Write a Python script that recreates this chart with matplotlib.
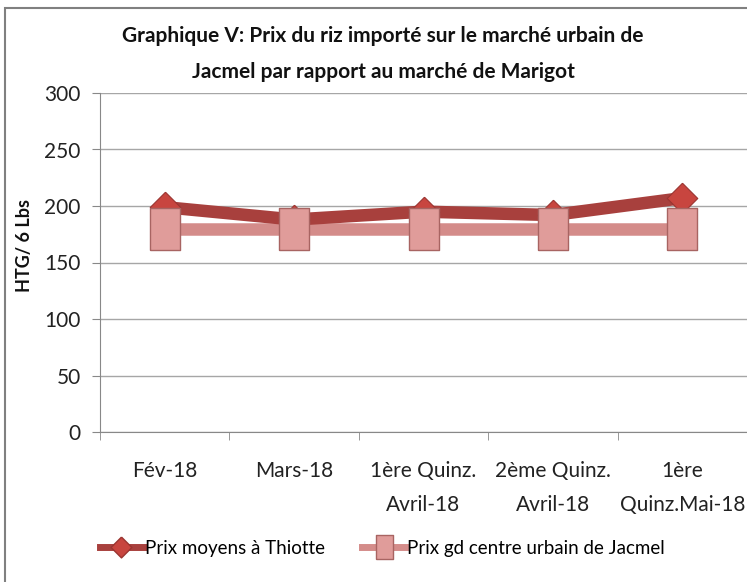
import matplotlib
matplotlib.use('Agg')
import matplotlib.pyplot as plt
from matplotlib.lines import Line2D
from matplotlib.patches import Rectangle

plt.rcParams['font.family'] = ['Lato', 'DejaVu Sans']

# data
categories = ['Fév-18', 'Mars-18', '1ère Quinz.\nAvril-18', '2ème Quinz.\nAvril-18', '1ère\nQuinz.Mai-18']
thiotte = [199, 188, 195, 192, 207]
jacmel = [180, 180, 180, 180, 180]
yticks = [0, 50, 100, 150, 200, 250, 300]

dark = '#A8403D'
dark_fill = '#C8453F'
light = '#D48C8A'
light_fill = '#E09C9A'
light_edge = '#A86462'

diamond = [(0, 1), (1, 0), (0, -1), (-1, 0), (0, 1)]
rect = [(-0.72, -1), (0.72, -1), (0.72, 1), (-0.72, 1), (-0.72, -1)]

fig = plt.figure(figsize=(7.47, 5.82), dpi=100)
ax = fig.add_axes([100 / 747, 150 / 582, 647 / 747, 339 / 582])

x = list(range(len(categories)))

# lines first, then the markers on top (like Excel)
ax.plot(x, jacmel, color=light, lw=9, zorder=2, solid_capstyle='butt')
ax.plot(x, thiotte, color=dark, lw=9, zorder=3, solid_capstyle='butt')
ax.plot(x, thiotte, ls='none', marker=diamond, ms=22, mfc=dark_fill,
        mec='#9A3430', mew=0.8, zorder=4)
ax.plot(x, jacmel, ls='none', marker=rect, ms=30, mfc=light_fill,
        mec=light_edge, mew=1.0, zorder=5)

ax.set_ylim(0, 300)
ax.set_xlim(-0.5, -0.5 + 647 / 130)
ax.set_yticks(yticks)
ax.set_xticks(x)
ax.set_xticklabels(categories, fontsize=15, linespacing=1.85, color='#222222')
ax.set_xticks([i - 0.5 for i in range(len(categories) + 1)], minor=True)
ax.tick_params(axis='x', which='major', length=0, pad=21)
ax.tick_params(axis='x', which='minor', length=6, color='#888888', direction='out')
ax.tick_params(axis='y', length=6, color='#888888', labelsize=15, labelcolor='#222222', pad=8)

ax.grid(axis='y', color='#A6A6A6', lw=1)
ax.set_axisbelow(True)
for s in ['top', 'right']:
    ax.spines[s].set_visible(False)
for s in ['left', 'bottom']:
    ax.spines[s].set_color('#888888')

ax.set_ylabel('HTG/ 6 Lbs', fontsize=13, fontweight='bold', color='#111111')
ax.yaxis.set_label_coords(-0.103, 0.55)

fig.text(0.513, 0.908, 'Graphique V: Prix du riz importé sur le marché urbain de\n'
         'Jacmel par rapport au marché de Marigot',
         ha='center', va='center', fontsize=15, fontweight='bold', linespacing=2.0,
         color='#111111')

h1 = Line2D([], [], color=dark, lw=5, marker=diamond, ms=15, mfc=dark_fill, mec='#9A3430')
h2 = Line2D([], [], color=light, lw=5, marker=rect, ms=17, mfc=light_fill, mec=light_edge)
fig.legend([h1, h2], ['Prix moyens à Thiotte', 'Prix gd centre urbain de Jacmel'],
           loc='center', bbox_to_anchor=(0.512, 0.058), ncol=2, frameon=False,
           fontsize=13.5, handlelength=2.3, handletextpad=0.1, columnspacing=2.0)

fig.patches.append(Rectangle((5 / 747, -0.01), 1.0, 1 - 8 / 582 + 0.01,
                             transform=fig.transFigure, fill=False,
                             edgecolor='#808080', lw=1.5))

fig.savefig('out.png', dpi=100)
